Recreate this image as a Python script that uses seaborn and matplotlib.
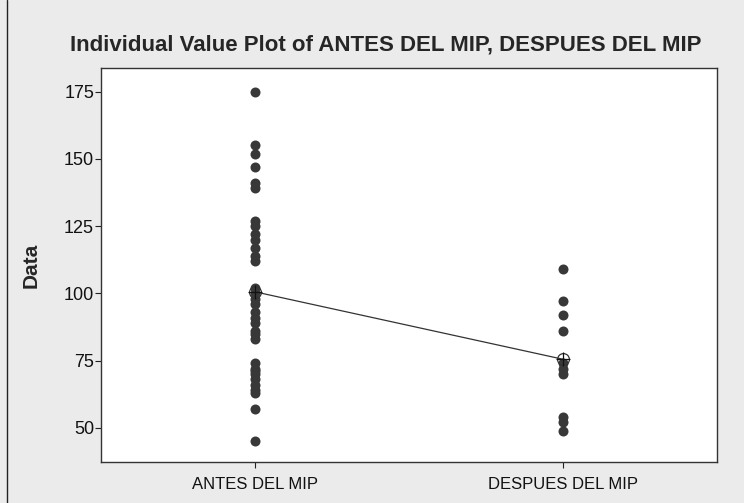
import numpy as np
import pandas as pd
import matplotlib
matplotlib.use("Agg")
import matplotlib.pyplot as plt
from matplotlib.lines import Line2D
import seaborn as sns

# Measurements before and after the MIP
antes_del_mip = [175, 155, 152, 147, 141, 139,
                 127, 125, 122, 120, 117, 114, 112,
                 102, 100, 98, 96, 93, 91, 89, 86, 85, 83,
                 74, 72, 71, 70, 68, 66, 64, 63,
                 57, 45]
despues_del_mip = [109, 97, 92, 86, 74, 72, 70, 54, 52, 49]

groups = ["ANTES DEL MIP", "DESPUES DEL MIP"]
y_ticks = [50, 75, 100, 125, 150, 175]

df = pd.DataFrame({
    "grupo": [groups[0]] * len(antes_del_mip) + [groups[1]] * len(despues_del_mip),
    "Data": antes_del_mip + despues_del_mip,
})

sns.set_theme(style="white")
plt.rcParams["font.family"] = ["Liberation Sans Narrow", "Liberation Sans", "DejaVu Sans"]

fig = plt.figure(figsize=(7.44, 5.03), dpi=100, facecolor="#ebebeb")
ax = fig.add_axes([101 / 744, 1 - 462 / 503, 616 / 744, 394 / 503])
ax.set_facecolor("white")

sns.stripplot(data=df, x="grupo", y="Data", order=groups, jitter=False,
              color="#383838", size=7.2, linewidth=0, ax=ax, zorder=2)

# Mean connect line with circle-cross symbol
sns.pointplot(data=df, x="grupo", y="Data", order=groups, estimator="mean",
              errorbar=None, color="#333333", markers="o", markersize=8.5,
              markerfacecolor="none", markeredgewidth=0.9, linewidth=0.9,
              ax=ax, zorder=3)
sns.pointplot(data=df, x="grupo", y="Data", order=groups, estimator="mean",
              errorbar=None, color="#111111", markers="+", markersize=10,
              markeredgewidth=0.9, linestyles="none", ax=ax, zorder=4)

ax.set_xlim(-0.5, 1.5)
ax.set_ylim(37.3, 183.8)
ax.set_yticks(y_ticks)
ax.set_yticklabels([str(t) for t in y_ticks], fontsize=13)
ax.set_xticks([0, 1])
ax.set_xticklabels(groups, fontsize=12)
ax.tick_params(axis="both", direction="out", length=4, width=0.8,
               color="#222222", labelcolor="#111111", left=True, bottom=True)
ax.tick_params(axis="x", pad=7)
ax.tick_params(axis="y", pad=1)
ax.set_xlabel("")
ax.set_ylabel("Data", fontsize=15, fontweight="bold", labelpad=17)

for s in ax.spines.values():
    s.set_visible(True)
    s.set_color("#333333")
    s.set_linewidth(1.0)

fig.suptitle("Individual Value Plot of ANTES DEL MIP, DESPUES DEL MIP",
             x=386 / 744, y=1 - 45 / 503, va="center",
             fontsize=16, fontweight="bold")

fig.add_artist(Line2D([7 / 744, 7 / 744], [0, 1], color="#222222", linewidth=1.0))

fig.savefig("out.png", dpi=100, facecolor=fig.get_facecolor())
